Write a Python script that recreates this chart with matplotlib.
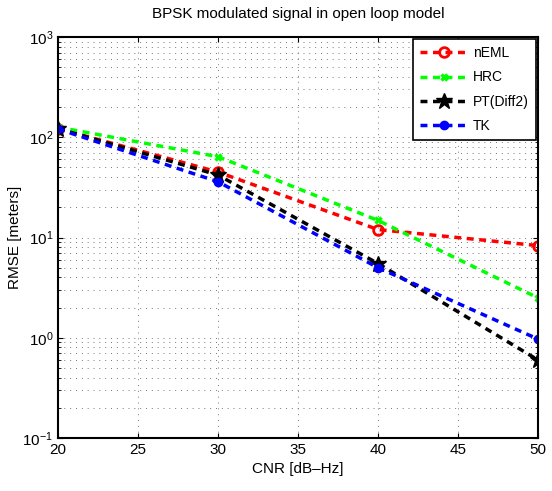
import numpy as np
import matplotlib.pyplot as plt

plt.rcParams['font.family'] = ['Liberation Sans', 'DejaVu Sans']

# dados
cnr = [20, 30, 40, 50]
nEML = [122, 45, 12.0, 8.3]
HRC = [126, 64, 14.8, 2.5]
PT = [122, 42, 5.5, 0.6]
TK = [121, 36, 5.0, 0.97]

fig = plt.figure(figsize=(5.52, 4.91), dpi=100)
ax = fig.add_axes([58/552, 1-438/491, 480/552, 401/491])

dash = (0, (2.0, 1.6))
ax.semilogy(cnr, nEML, color='red', ls=dash, lw=2.5, marker='o', ms=7,
            mfc='none', mec='red', mew=2, label='nEML')
ax.semilogy(cnr, HRC, color='#00ff00', ls=dash, lw=2.5, marker='x', ms=5,
            mew=2.5, label='HRC')
ax.semilogy(cnr, PT, color='black', ls=dash, lw=2.5, marker='*', ms=12,
            label='PT(Diff2)')
ax.semilogy(cnr, TK, color='blue', ls=dash, lw=2.5, marker='o', ms=6,
            label='TK')

ax.set_xlim(20, 50)
ax.set_ylim(1e-1, 1e3)
ax.set_xticks([20, 25, 30, 35, 40, 45, 50])
gstyle = dict(linestyle=(0, (1, 5)), color='#777777', lw=0.7)
ax.grid(True, which='major', **gstyle)
ax.grid(True, which='minor', axis='y', **gstyle)
ax.tick_params(which='both', direction='in', top=True, right=True, labelsize=11)
for s in ax.spines.values():
    s.set_linewidth(1.5)

ax.set_xlabel('CNR [dB\u2013Hz]', fontsize=11)
ax.set_ylabel('RMSE [meters]', fontsize=11)
ax.yaxis.set_label_coords(-0.075, 0.5)
ax.set_title('BPSK modulated signal in open loop model', fontsize=11, pad=14)

leg = ax.legend(loc='upper right', fontsize=10, fancybox=False, framealpha=1,
                edgecolor='black', handlelength=3.4, handletextpad=0.4,
                borderaxespad=0.15, labelspacing=0.75, borderpad=0.5)
leg.get_frame().set_linewidth(1.2)

fig.savefig('out.png', dpi=100)
